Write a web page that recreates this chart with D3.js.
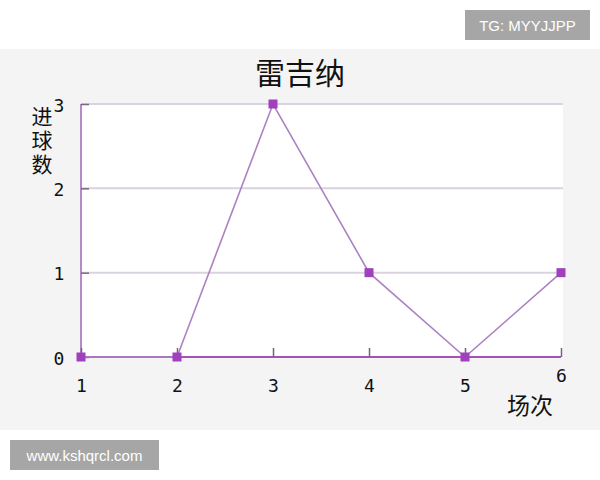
<!DOCTYPE html>
<html><head><meta charset="utf-8">
<script src="https://cdn.jsdelivr.net/npm/d3@7"></script>
<style>html,body{margin:0;padding:0;background:#fff;}svg{display:block;}</style>
</head><body>
<script>
const title = "雷吉纳";
const matches = [1, 2, 3, 4, 5, 6];
const goals = [0, 0, 3, 1, 0, 1];
const yTicks = [0, 1, 2, 3];
const yLabel = "进球数";
const xLabel = "场次";

const W = 600, H = 480;
const svg = d3.select("body").append("svg").attr("width", W).attr("height", H);

// panel
svg.append("rect").attr("x", 0).attr("y", 49).attr("width", W).attr("height", 381).attr("fill", "#f4f4f4");

const x = d3.scaleLinear().domain([1, 6]).range([81, 561]);
const y = d3.scaleLinear().domain([0, 3]).range([357, 104]);

// plot area
svg.append("rect").attr("x", x(1)).attr("y", y(3)).attr("width", 563 - x(1)).attr("height", y(0) - y(3)).attr("fill", "#ffffff");

// grid lines
svg.append("g").selectAll("line").data(yTicks.filter(d => d > 0)).join("line")
  .attr("x1", x(1)).attr("x2", 563).attr("y1", d => y(d)).attr("y2", d => y(d))
  .attr("stroke", "#d9d3dd").attr("stroke-width", 2);

// left axis line
svg.append("line").attr("x1", x(1)).attr("x2", x(1)).attr("y1", y(3)).attr("y2", y(0))
  .attr("stroke", "#b68ac8").attr("stroke-width", 2);

// y ticks (inward)
const yAxis = svg.append("g").attr("transform", `translate(${x(1)},0)`)
  .call(d3.axisLeft(y).tickValues(yTicks).tickSize(-8).tickPadding(23).tickFormat(d3.format("d")));
yAxis.select(".domain").remove();
yAxis.selectAll(".tick line").attr("stroke", "#7a6a80").attr("stroke-width", 1.5);
yAxis.selectAll(".tick text").attr("font-family", "DejaVu Sans Mono, monospace").attr("font-size", 18)
  .attr("fill", "#111").attr("text-anchor", "middle").attr("x", -22).attr("dy", "0.4em");

// x axis line
svg.append("line").attr("x1", x(1)).attr("x2", x(6)).attr("y1", y(0)).attr("y2", y(0))
  .attr("stroke", "#a552b8").attr("stroke-width", 2.2);

// x ticks (upward)
const xAxis = svg.append("g").attr("transform", `translate(0,${y(0)})`)
  .call(d3.axisBottom(x).tickValues(matches).tickSize(-9).tickPadding(22).tickFormat(d3.format("d")));
xAxis.select(".domain").remove();
xAxis.selectAll(".tick line").attr("stroke", "#6f6474").attr("stroke-width", 1.5);
xAxis.selectAll(".tick text").attr("font-family", "DejaVu Sans Mono, monospace").attr("font-size", 18)
  .attr("fill", "#111");
xAxis.selectAll(".tick text").filter(d => d === 6).attr("y", 12);

// line
svg.append("path").datum(goals)
  .attr("d", d3.line().x((d, i) => x(matches[i])).y(d => y(d)))
  .attr("fill", "none").attr("stroke", "#ab82c2").attr("stroke-width", 1.6);

// markers
const ms = 9;
svg.append("g").selectAll("rect").data(goals).join("rect")
  .attr("x", (d, i) => x(matches[i]) - ms / 2).attr("y", d => y(d) - ms / 2)
  .attr("width", ms).attr("height", ms).attr("fill", "#a040bc");

// title
svg.append("text").attr("x", 300).attr("y", 84).attr("text-anchor", "middle")
  .attr("font-family", "Noto Sans CJK SC").attr("font-size", 30).attr("fill", "#111").text(title);

// y label (vertical)
svg.append("text").attr("x", 42).attr("y", 106)
  .style("writing-mode", "vertical-rl").attr("letter-spacing", 3)
  .attr("font-family", "Noto Sans CJK SC").attr("font-size", 21).attr("fill", "#111").text(yLabel);

// x label
svg.append("text").attr("x", 530).attr("y", 414).attr("text-anchor", "middle")
  .attr("font-family", "Noto Sans CJK SC").attr("font-size", 23).attr("fill", "#111").text(xLabel);

// watermarks
svg.append("rect").attr("x", 465).attr("y", 10).attr("width", 125).attr("height", 30).attr("fill", "#a6a6a6");
svg.append("text").attr("x", 527.5).attr("y", 31).attr("text-anchor", "middle")
  .attr("font-family", "Liberation Sans, Arial, sans-serif").attr("font-size", 15).attr("fill", "#fff").text("TG: MYYJJPP");
svg.append("rect").attr("x", 10).attr("y", 440).attr("width", 149).attr("height", 30).attr("fill", "#a6a6a6");
svg.append("text").attr("x", 84.5).attr("y", 461).attr("text-anchor", "middle")
  .attr("font-family", "Liberation Sans, Arial, sans-serif").attr("font-size", 15).attr("fill", "#fff").text("www.kshqrcl.com");
</script>
</body></html>
